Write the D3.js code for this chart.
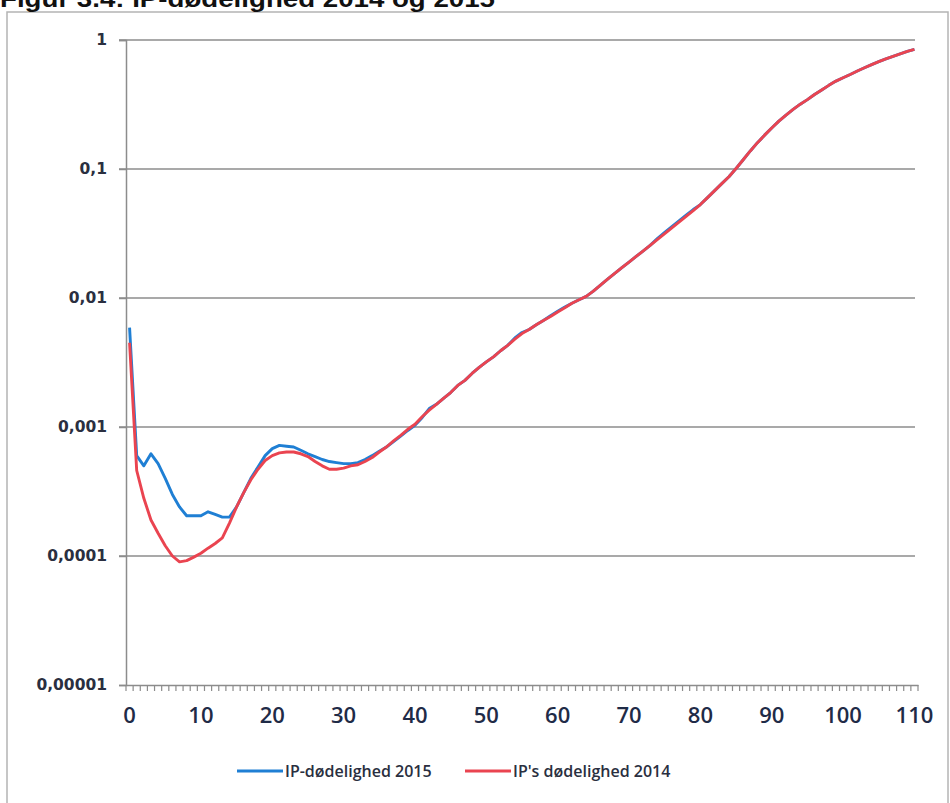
<!DOCTYPE html>
<html>
<head>
<meta charset="utf-8">
<script src="https://cdn.jsdelivr.net/npm/d3@7"></script>
<style>
  body { margin: 0; background: #fff; }
  svg { display: block; }
</style>
</head>
<body>
<svg id="svg" width="950" height="803"></svg>
<script>
// ages 0..110 (category axis)
var ages = d3.range(0, 111)

// IP's dødelighed 2014 (red)
var mort2014 = [
    0.0045, 0.00046, 0.00028, 0.00019, 0.00015, 0.00012, 0.0001, 0.00009, 0.000092, 0.000098,
    0.000105, 0.000115, 0.000125, 0.000138, 0.00018, 0.00024, 0.00031, 0.00039, 0.00047, 0.00055,
    0.0006, 0.00063, 0.00064, 0.00064, 0.00062, 0.00059, 0.00054, 0.0005, 0.00047, 0.00047,
    0.00048, 0.0005, 0.00051, 0.00054, 0.00058, 0.00064, 0.0007, 0.00078, 0.00086, 0.00096,
    0.00105, 0.0012, 0.00135, 0.0015, 0.00167, 0.00185, 0.0021, 0.0023, 0.0026, 0.0029,
    0.0032, 0.0035, 0.0039, 0.0043, 0.0048, 0.0053, 0.0057, 0.0062, 0.0067, 0.0072,
    0.0078, 0.0084, 0.0091, 0.0097, 0.0103, 0.0113, 0.0126, 0.014, 0.0155, 0.0172,
    0.019, 0.021, 0.0232, 0.0257, 0.0285, 0.0315, 0.035, 0.0388, 0.043, 0.0475,
    0.053, 0.06, 0.068, 0.077, 0.087, 0.101, 0.118, 0.138, 0.16, 0.183,
    0.208, 0.235, 0.262, 0.29, 0.318, 0.345, 0.378, 0.41, 0.445, 0.48,
    0.51, 0.54, 0.575, 0.61, 0.645, 0.68, 0.715, 0.748, 0.78, 0.815,
    0.845
]

// IP-dødelighed 2015 (blue)
var mort2015 = [
    0.0059, 0.0006, 0.0005, 0.00062, 0.00052, 0.0004, 0.0003, 0.00024, 0.000205, 0.000205,
    0.000205, 0.00022, 0.00021, 0.0002, 0.0002, 0.00024, 0.00031, 0.0004, 0.00049, 0.0006,
    0.00068, 0.00072, 0.00071, 0.0007, 0.00066, 0.00062, 0.00059, 0.00056, 0.00054, 0.00053,
    0.00052, 0.00052, 0.00053, 0.00056, 0.0006, 0.00065, 0.0007, 0.00077, 0.00085, 0.00094,
    0.00103, 0.00118, 0.00139, 0.0015, 0.00167, 0.00185, 0.0021, 0.0023, 0.0026, 0.0029,
    0.0032, 0.0035, 0.0039, 0.0043, 0.0049, 0.0054, 0.0057, 0.0062, 0.0067, 0.0073,
    0.0079, 0.0085, 0.0091, 0.0097, 0.0103, 0.0113, 0.0126, 0.014, 0.0155, 0.0172,
    0.019, 0.021, 0.0232, 0.0257, 0.029, 0.0322, 0.0357, 0.0396, 0.0438, 0.0485,
    0.053, 0.06, 0.068, 0.077, 0.087, 0.101, 0.118, 0.138, 0.16, 0.183,
    0.208, 0.235, 0.262, 0.29, 0.318, 0.345, 0.378, 0.41, 0.445, 0.48,
    0.51, 0.54, 0.575, 0.61, 0.645, 0.68, 0.715, 0.748, 0.78, 0.815,
    0.845
]

var yTicks = [1, 0.1, 0.01, 0.001, 0.0001, 0.00001]
var yTickLabels = ["1", "0,1", "0,01", "0,001", "0,0001", "0,00001"]
var xTickValues = [0, 10, 20, 30, 40, 50, 60, 70, 80, 90, 100, 110]

var seriesNames = ["IP-dødelighed 2015", "IP's dødelighed 2014"]
var seriesColors = ["#1f7fd4", "#ea4450"]

drawChart()

function drawChart() {
    var svg = d3.select("#svg")

    // outer frame + title (cut off at the top edge, as in the scan)
    svg.append("rect")
        .attr("x", 7).attr("y", 12)
        .attr("width", 941).attr("height", 800)
        .attr("fill", "none")
        .attr("stroke", "#b4b4b4")
        .attr("stroke-width", 1.5)

    svg.append("text")
        .attr("x", 0).attr("y", 7)
        .attr("font-family", "Liberation Sans, Arial, sans-serif")
        .attr("font-weight", "bold")
        .attr("font-size", 24)
        .attr("textLength", 495)
        .attr("lengthAdjust", "spacingAndGlyphs")
        .attr("fill", "#111")
        .text("Figur 3.4: IP-dødelighed 2014 og 2015")

    var plotLeft = 126, plotRight = 918, plotTop = 40, plotBottom = 685

    var x = d3.scaleBand()
        .domain(ages)
        .range([plotLeft, plotRight])

    var y = d3.scaleLog()
        .domain([0.00001, 1])
        .range([plotBottom, plotTop])

    // gridlines with small outside ticks
    svg.append("g").selectAll("line")
        .data(yTicks.slice(0, 5))
        .enter().append("line")
        .attr("x1", plotLeft - 7)
        .attr("x2", 915)
        .attr("y1", function (d) { return y(d) })
        .attr("y2", function (d) { return y(d) })
        .attr("stroke", "#8c8c8c")
        .attr("stroke-width", 1.5)

    // y axis
    var yAxis = svg.append("g")
        .attr("transform", translate(plotLeft, 0))
        .call(d3.axisLeft(y)
            .tickValues(yTicks)
            .tickFormat(function (d, i) { return yTickLabels[i] })
            .tickSize(7)
            .tickPadding(12))
    yAxis.select(".domain").attr("stroke", "#8c8c8c").attr("stroke-width", 1.5)
    yAxis.selectAll(".tick line").attr("stroke", "#8c8c8c").attr("stroke-width", 1.5)
    yAxis.selectAll(".tick text")
        .attr("font-family", "DejaVu Sans, sans-serif")
        .attr("font-weight", "bold")
        .attr("font-size", 15.5)
        .attr("fill", "#2a2f40")

    // x axis: labels every 10 years, tick marks between categories
    var xAxis = svg.append("g")
        .attr("transform", translate(0, plotBottom))
        .call(d3.axisBottom(x)
            .tickValues(xTickValues)
            .tickSize(0)
            .tickPadding(22))
    xAxis.select(".domain").attr("stroke", "#8c8c8c").attr("stroke-width", 1.5)
    xAxis.selectAll(".tick text")
        .attr("font-family", "Open Sans, sans-serif")
        .attr("font-weight", 600)
        .attr("font-size", 22)
        .attr("fill", "#1f2b47")

    xAxis.append("g").selectAll("line")
        .data(ages.concat([111]))
        .enter().append("line")
        .attr("x1", function (d) { return plotLeft + d * x.step() })
        .attr("x2", function (d) { return plotLeft + d * x.step() })
        .attr("y1", 0)
        .attr("y2", 6)
        .attr("stroke", "#8c8c8c")
        .attr("stroke-width", 1.2)

    // lines
    var line = d3.line()
        .x(function (d, i) { return x(ages[i]) + x.bandwidth() / 2 })
        .y(function (d) { return y(d) })

    var series = [mort2015, mort2014]

    svg.append("g").selectAll("path")
        .data(series)
        .enter().append("path")
        .attr("d", line)
        .attr("fill", "none")
        .attr("stroke", function (d, i) { return seriesColors[i] })
        .attr("stroke-width", 2.9)
        .attr("stroke-linejoin", "round")

    // legend
    var legendX = [237, 465]
    var legend = svg.append("g").selectAll("g")
        .data(seriesNames)
        .enter().append("g")
        .attr("transform", function (d, i) { return translate(legendX[i], 771) })

    legend.append("line")
        .attr("x1", 0).attr("x2", 46)
        .attr("stroke", function (d, i) { return seriesColors[i] })
        .attr("stroke-width", 2.9)

    legend.append("text")
        .attr("x", 48)
        .attr("dy", "0.35em")
        .attr("font-family", "Open Sans, sans-serif")
        .attr("font-weight", 600)
        .attr("font-size", 16)
        .attr("fill", "#2a2f40")
        .text(function (d) { return d })
}

function translate(x, y) {
    return "translate(" + x + "," + y + ")"
}
</script>
</body>
</html>
